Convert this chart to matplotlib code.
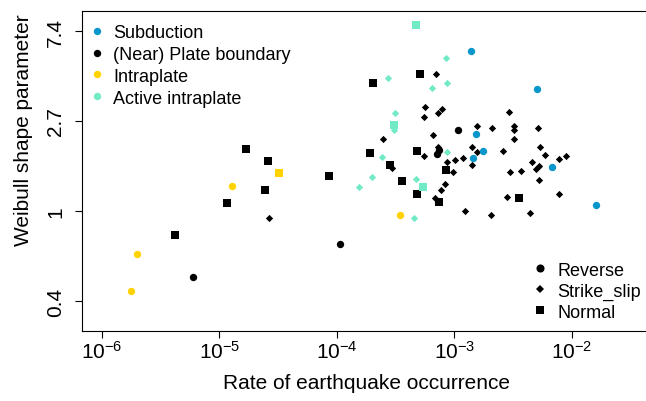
import numpy as np
import matplotlib
matplotlib.use('Agg')
import matplotlib.pyplot as plt
from matplotlib.lines import Line2D

plt.rcParams['font.family'] = ['Liberation Sans', 'DejaVu Sans']
plt.rcParams['mathtext.fontset'] = 'custom'
plt.rcParams['mathtext.rm'] = 'Liberation Sans'

# tectonic classes: rate of occurrence, Weibull shape, mechanism (R/S/N)
sub_rate = [1.39e-3, 5.01e-3, 1.51e-3, 1.75e-3, 1.45e-3, 6.76e-3, 1.60e-2]
sub_shape = [5.90, 3.89, 2.35, 1.94, 1.81, 1.63, 1.07]
sub_mech = "RRRRRRR"

intra_rate = [1.29e-5, 1.99e-6, 1.77e-6, 3.44e-4, 3.19e-5]
intra_shape = [1.32, 0.62, 0.41, 0.96, 1.53]
intra_mech = "RRRRN"

active_rate = [4.70e-4, 8.48e-4, 2.72e-4, 8.69e-4, 6.40e-4, 3.10e-4, 3.08e-4,
               3.08e-4, 8.69e-4, 2.43e-4, 2.00e-4, 1.53e-4, 4.68e-4, 5.40e-4,
               4.55e-4]
active_shape = [7.92, 5.46, 4.40, 4.15, 3.91, 2.96, 2.59, 2.47, 1.92, 1.83,
                1.46, 1.31, 1.43, 1.31, 0.93]
active_mech = "NSSSSSNSSSSSSNS"

plate_rate = [1.67e-5, 2.57e-5, 8.49e-5, 2.44e-5, 1.15e-5, 4.18e-6, 5.06e-4,
              2.02e-4, 1.91e-4, 4.80e-4, 2.82e-4, 8.41e-4, 3.56e-4, 4.76e-4,
              7.38e-4, 3.52e-3,
              5.98e-6, 1.07e-4, 1.07e-3, 7.38e-4, 7.06e-4,
              2.62e-5, 7.00e-4, 5.64e-4, 7.83e-4, 7.28e-4, 5.50e-4, 2.91e-3,
              1.55e-3, 2.07e-3, 3.19e-3, 3.23e-3, 5.16e-3, 2.48e-4, 6.52e-4,
              3.23e-3, 7.28e-4, 1.42e-3, 1.54e-3, 2.57e-3, 5.37e-3, 5.93e-3,
              7.80e-3, 8.89e-3, 5.52e-4, 8.69e-4, 1.01e-3, 1.19e-3, 1.42e-3,
              2.96e-4, 9.77e-4, 4.57e-3, 5.21e-3, 4.97e-3, 2.95e-3, 3.68e-3,
              8.26e-4, 5.27e-3, 7.73e-4, 7.80e-3, 6.87e-4, 2.81e-3, 1.24e-3,
              2.05e-3, 4.37e-3]
plate_shape = [2.00, 1.74, 1.48, 1.26, 1.09, 0.77, 4.58, 4.16, 1.91, 1.95,
               1.67, 1.58, 1.40, 1.21, 1.11, 1.16,
               0.48, 0.69, 2.46, 1.97, 1.89,
               0.93, 4.57, 3.19, 3.12, 2.96, 2.83, 3.01, 2.58, 2.51, 2.56,
               2.47, 2.52, 2.23, 2.33, 2.23, 2.03, 2.04, 1.92, 1.95, 2.03,
               1.86, 1.78, 1.85, 1.84, 1.73, 1.77, 1.80, 1.66, 1.61, 1.55,
               1.72, 1.65, 1.59, 1.55, 1.56, 1.35, 1.41, 1.26, 1.21, 1.15,
               1.17, 1.00, 0.96, 0.98]
plate_mech = "N" * 16 + "R" * 5 + "S" * 44

class_names = ['Subduction', '(Near) Plate boundary', 'Intraplate', 'Active intraplate']
class_colors = ['#0A96CA', '#000000', '#FFD200', '#72EAC6']
mech_names = ['Reverse', 'Strike_slip', 'Normal']

x_ticks = [1e-6, 1e-5, 1e-4, 1e-3, 1e-2]
x_ticklabels = [r'$\mathregular{10^{-6}}$', r'$\mathregular{10^{-5}}$',
                r'$\mathregular{10^{-4}}$', r'$\mathregular{10^{-3}}$',
                r'$\mathregular{10^{-2}}$']
y_ticks = np.exp([-1, 0, 1, 2])
y_ticklabels = ['0.4', '1', '2.7', '7.4']

markers = {'R': 'o', 'S': 'D', 'N': 's'}
msize = {'R': 5.3, 'S': 3.7, 'N': 5.8}

fig = plt.figure(figsize=(6.46, 4.02), dpi=100)
ax = fig.add_axes([82 / 646, 70 / 402, 564 / 646, 320.5 / 402])

groups = [(plate_rate, plate_shape, plate_mech, class_colors[1]),
          (active_rate, active_shape, active_mech, class_colors[3]),
          (intra_rate, intra_shape, intra_mech, class_colors[2]),
          (sub_rate, sub_shape, sub_mech, class_colors[0])]
for rate, shape, mech, col in groups:
    rate = np.array(rate)
    shape = np.array(shape)
    mech = np.array(list(mech))
    for m in 'NSR':
        sel = mech == m
        if sel.any():
            ax.scatter(rate[sel], shape[sel], marker=markers[m], s=msize[m] ** 2,
                       color=col, linewidths=0, zorder=3)

ax.set_xscale('log')
ax.set_yscale('log')
ax.set_xlim(10 ** -6.170, 10 ** -1.370)
ax.set_ylim(np.exp(-1.333), np.exp(2.228))
ax.minorticks_off()
ax.set_xticks(x_ticks)
ax.set_xticklabels(x_ticklabels)
ax.set_yticks(y_ticks)
ax.set_yticklabels(y_ticklabels, rotation=90, va='center')
ax.tick_params(axis='both', labelsize=15, length=5, width=0.8, direction='out')
ax.tick_params(axis='x', pad=1.5)
ax.tick_params(axis='y', pad=7)
ax.spines['right'].set_visible(False)
for s in ['left', 'top', 'bottom']:
    ax.spines[s].set_linewidth(0.8)

ax.set_xlabel('Rate of earthquake occurrence', fontsize=15)
ax.xaxis.set_label_coords(0.504, -0.131)
ax.set_ylabel('Weibull shape parameter', fontsize=15)
ax.yaxis.set_label_coords(-0.087, 0.63)

h1 = [Line2D([], [], ls='', marker='o', markersize=5.3, color=c, markeredgewidth=0)
      for c in class_colors]
leg1 = ax.legend(h1, class_names, loc='upper left', bbox_to_anchor=(0.0106, 0.958),
                 frameon=False, fontsize=13, borderpad=0, borderaxespad=0,
                 handlelength=1.0, handletextpad=0.4, labelspacing=0.27)
ax.add_artist(leg1)

h2 = [Line2D([], [], ls='', marker=markers[m], markersize=msize[m] * 1.1,
             color='black', markeredgewidth=0) for m in 'RSN']
ax.legend(h2, mech_names, loc='upper left', bbox_to_anchor=(0.796, 0.2165),
          frameon=False, fontsize=13, borderpad=0, borderaxespad=0,
          handlelength=1.0, handletextpad=0.45, labelspacing=0.22)

fig.savefig('out.png', dpi=100)
